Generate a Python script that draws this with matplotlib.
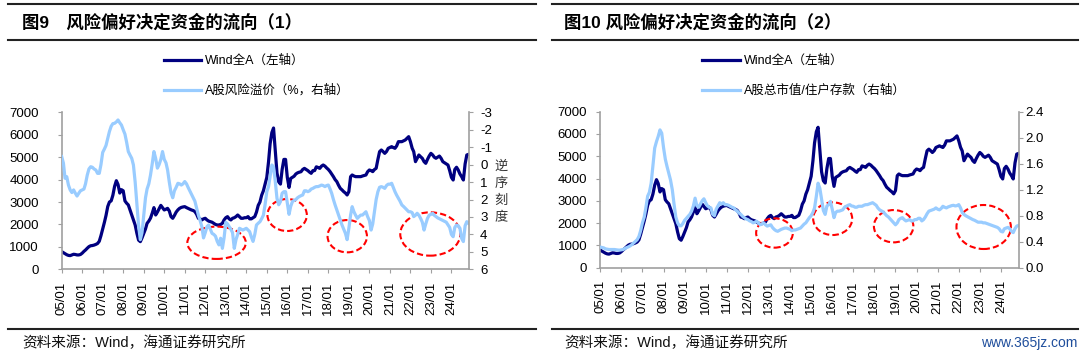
import datetime
import matplotlib
matplotlib.use("Agg")
import matplotlib.pyplot as plt
import matplotlib.dates as mdates
from matplotlib.patches import Ellipse
from matplotlib.lines import Line2D
import pandas as pd

plt.rcParams['font.family'] = ['Liberation Sans', 'Noto Sans CJK SC']
plt.rcParams['axes.unicode_minus'] = False

# monthly data, 2005/01 .. 2024/11
wind_a = [
    788, 740, 700, 650, 620, 610, 640, 670, 660, 640, 640, 660,
    720, 800, 860, 940, 1010, 1050, 1060, 1080, 1110, 1150, 1250, 1500,
    1800, 2100, 2400, 2800, 3000, 3050, 3300, 3700, 3950, 3780, 3400, 3550,
    3500, 3050, 2950, 2870, 2650, 2420, 2200, 1976, 1600, 1300, 1233, 1400,
    1605, 1800, 2050, 2150, 2280, 2500, 2750, 2422, 2550, 2700, 2850, 2750,
    2645, 2680, 2719, 2600, 2350, 2274, 2400, 2550, 2650, 2719, 2760, 2780,
    2794, 2750, 2719, 2680, 2645, 2620, 2571, 2450, 2274, 2250, 2200, 2250,
    2274, 2200, 2150, 2125, 2100, 2050, 2000, 1976, 1976, 2000, 2051, 2200,
    2300, 2348, 2250, 2200, 2274, 2300, 2348, 2422, 2350, 2274, 2274, 2300,
    2300, 2350, 2250, 2250, 2300, 2350, 2550, 2850, 3000, 3300, 3500, 3800,
    4100, 4800, 5600, 6100, 6300, 5300, 4300, 3900, 3800, 4450, 4900, 4900,
    4100, 3650, 4050, 4100, 4150, 4250, 4300, 4330, 4350, 4450, 4500, 4450,
    4400, 4330, 4280, 4400, 4400, 4570, 4540, 4500, 4600, 4650, 4600, 4520,
    4450, 4354, 4250, 4131, 4000, 3908, 3750, 3611, 3540, 3462, 3400, 3314,
    3462, 4131, 4205, 4160, 4131, 4131, 4131, 4131, 4160, 4180, 4205, 4350,
    4428, 4400, 4354, 4450, 4503, 4900, 5245, 5320, 5250, 5170, 5250, 5394,
    5430, 5468, 5430, 5394, 5500, 5691, 5691, 5691, 5730, 5765, 5840, 5914,
    5691, 5400, 5245, 4800, 4950, 5097, 5020, 4948, 4800, 4725, 4900, 5050,
    5170, 5100, 5000, 4950, 5000, 5050, 4950, 4800, 4750, 4700, 4650, 4400,
    4100, 3982, 4450, 4550, 4430, 4250, 4130, 3982, 4700, 5097, 5125,
]

risk_premium = [
    -0.46, -0.08, 0.78, 0.69, 1.17, 1.45, 1.6, 1.45, 1.64, 1.8, 1.64, 1.5,
    1.45, 1.4, 1.1, 0.6, 0.25, 0.12, 0.15, 0.25, 0.31, 0.5, 0.5, 0.0,
    -0.7, -0.9, -1.1, -1.5, -1.9, -2.2, -2.35, -2.37, -2.45, -2.56, -2.4, -2.27,
    -2.0, -1.75, -1.3, -0.75, -0.55, -0.36, 0.02, 1.0, 2.3, 3.5, 4.3, 3.9,
    2.9, 1.9, 1.4, 1.1, 0.6, -0.05, -0.75, -0.36, 0.2, 0.0, -0.3, -0.75,
    -0.3, -0.1, 0.3, 1.0, 1.6, 1.9, 1.5, 1.3, 1.07, 1.1, 1.17, 1.1,
    0.97, 1.1, 1.3, 1.5, 1.7, 1.9, 2.1, 2.5, 2.9, 3.2, 3.55, 4.2,
    3.9, 3.55, 3.46, 3.7, 3.94, 4.0, 4.1, 4.4, 4.6, 4.22, 4.8, 4.2,
    3.3, 3.4, 3.55, 3.7, 3.9, 4.8, 4.3, 4.0, 3.65, 3.7, 3.75, 3.7,
    3.65, 3.75, 3.84, 4.15, 4.4, 4.0, 3.46, 3.36, 3.27, 3.1, 2.9, 2.3,
    1.55, 1.26, 0.69, 0.02, 0.12, 0.97, 1.93, 2.3, 2.12, 1.64, 1.55, 1.55,
    2.2, 2.85, 2.4, 2.12, 2.05, 2.0, 1.9, 1.83, 1.78, 1.74, 1.5, 1.5,
    1.55, 1.5, 1.4, 1.36, 1.3, 1.26, 1.26, 1.22, 1.17, 1.2, 1.26, 1.2,
    1.17, 1.4, 1.64, 2.0, 2.31, 2.6, 2.89, 3.17, 3.46, 3.7, 3.94, 4.3,
    3.65, 2.89, 2.41, 2.7, 2.9, 3.08, 2.98, 2.89, 2.89, 2.8, 2.7, 2.98,
    3.2, 3.75, 3.4, 2.7, 2.0, 1.55, 1.3, 1.26, 1.3, 1.36, 1.2, 1.12,
    1.12, 1.07, 1.3, 1.55, 1.75, 1.93, 2.1, 2.31, 2.4, 2.5, 2.6, 2.7,
    2.7, 2.75, 2.98, 2.9, 2.79, 2.9, 3.08, 3.3, 3.75, 3.4, 3.08, 2.9,
    2.85, 2.79, 2.9, 2.98, 3.05, 3.1, 3.15, 3.2, 3.25, 3.3, 3.45, 3.6,
    4.0, 4.13, 3.6, 3.46, 3.5, 3.65, 4.22, 4.41, 3.5, 3.27, 3.36,
]

cap_to_deposit = [
    0.317, 0.31, 0.305, 0.29, 0.285, 0.28, 0.28, 0.28, 0.28, 0.276, 0.272, 0.27,
    0.275, 0.28, 0.295, 0.31, 0.32, 0.335, 0.355, 0.38, 0.405, 0.43, 0.48, 0.57,
    0.69, 0.78, 0.92, 1.1, 1.16, 1.3, 1.57, 1.84, 1.94, 2.02, 2.12, 2.07,
    1.85, 1.67, 1.56, 1.45, 1.35, 1.2, 0.98, 0.78, 0.69, 0.645, 0.645, 0.68,
    0.73, 0.76, 0.79, 0.82, 0.87, 0.95, 1.07, 0.95, 0.93, 0.98, 1.03, 1.06,
    1.0, 0.95, 0.93, 0.92, 0.82, 0.8, 0.9, 0.95, 1.0, 0.98, 1.0, 0.97,
    0.97, 0.96, 0.945, 0.93, 0.92, 0.89, 0.87, 0.84, 0.82, 0.79, 0.77, 0.75,
    0.74, 0.72, 0.71, 0.69, 0.70, 0.715, 0.69, 0.66, 0.675, 0.69, 0.66, 0.64,
    0.65, 0.66, 0.62, 0.59, 0.57, 0.56, 0.575, 0.59, 0.6, 0.61, 0.61, 0.6,
    0.59, 0.57, 0.58, 0.58, 0.59, 0.6, 0.61, 0.64, 0.67, 0.69, 0.73, 0.77,
    0.8, 0.85, 0.92, 1.1, 1.3, 1.22, 1.05, 0.88, 0.82, 0.95, 0.97, 1.02,
    0.9, 0.77, 0.85, 0.87, 0.87, 0.88, 0.89, 0.93, 0.945, 0.96, 0.97, 0.95,
    0.945, 0.93, 0.93, 0.945, 0.945, 0.945, 0.96, 0.97, 0.97, 0.98, 0.99, 1.0,
    0.98, 0.96, 0.92, 0.89, 0.875, 0.86, 0.83, 0.8, 0.78, 0.75, 0.72, 0.69,
    0.66, 0.69, 0.74, 0.76, 0.77, 0.74, 0.72, 0.73, 0.74, 0.72, 0.72, 0.74,
    0.74, 0.76, 0.76, 0.72, 0.74, 0.78, 0.83, 0.87, 0.88, 0.89, 0.9, 0.92,
    0.9, 0.89, 0.91, 0.945, 0.93, 0.92, 0.935, 0.945, 0.955, 0.96, 0.95, 0.955,
    0.97, 0.92, 0.85, 0.82, 0.8, 0.785, 0.77, 0.755, 0.74, 0.73, 0.715, 0.70,
    0.7, 0.7, 0.69, 0.69, 0.68, 0.67, 0.66, 0.65, 0.64, 0.63, 0.62, 0.6,
    0.56, 0.55, 0.6, 0.61, 0.62, 0.6, 0.56, 0.54, 0.6, 0.64, 0.65,
]

dates = pd.date_range('2005-01-01', periods=len(wind_a), freq='MS')

# dashed circles: (centre year, centre value on left axis, width in years, height)
circles_left = [(2012.55, 1182, 2.85, 1440), (2015.99, 2421, 1.92, 1427),
                (2018.92, 1476, 1.92, 1440), (2022.97, 1574, 2.93, 1932)]
circles_right = [(2013.26, 1557, 1.74, 1316), (2016.02, 2199, 1.85, 1466),
                 (2018.91, 1862, 1.87, 1450), (2023.18, 1826, 2.58, 1974)]

DARK = '#000080'
LIGHT = '#99ccff'
GREY = '#a0a0a0'
W, H = 1080.0, 356.0

base = mdates.date2num(datetime.datetime(2005, 1, 1))


def yr(y):
    return base + (y - 2005) * 365.25


fig = plt.figure(figsize=(10.8, 3.56), dpi=100)


def panel(rect, right_data, right_lim, right_ticks, right_fmt, circles, pad_l, pad_r, labels):
    ax = fig.add_axes(rect)
    l1, = ax.plot(dates, wind_a, color=DARK, lw=2.3, solid_joinstyle='round')
    ax.set_ylim(0, 7000)
    ax.set_yticks(range(0, 7001, 1000))
    ax.set_xlim(yr(2005), yr(2024.87))
    ax.xaxis.set_major_locator(mdates.YearLocator())
    ax.xaxis.set_major_formatter(mdates.DateFormatter('%y/%m'))
    axr = ax.twinx()
    l2, = axr.plot(dates, right_data, color=LIGHT, lw=2.3, solid_joinstyle='round')
    axr.set_ylim(*right_lim)
    axr.set_yticks(right_ticks)
    axr.set_yticklabels([right_fmt(t) for t in right_ticks])
    for c in circles:
        e = Ellipse((yr(c[0]), c[1]), c[2] * 365.25, c[3], transform=ax.transData,
                    fill=False, edgecolor='#ff0000', lw=1.5, linestyle=(0, (3, 1.5)))
        axr.add_patch(e)
    for a in (ax, axr):
        a.spines['top'].set_visible(False)
        for s in a.spines.values():
            s.set_color(GREY)
            s.set_linewidth(1.2)
    ax.spines['right'].set_visible(False)
    axr.spines['left'].set_visible(False)
    axr.spines['bottom'].set_visible(False)
    ax.tick_params(axis='y', length=3, color=GREY, labelsize=9.5, pad=pad_l)
    axr.tick_params(axis='y', length=3, color=GREY, labelsize=9.5, pad=pad_r)
    ax.tick_params(axis='x', length=3, color=GREY, labelsize=9.5, pad=6, labelrotation=90)
    axr.legend([l1, l2], labels, loc='upper left',
               bbox_to_anchor=(rect[0] + 102 / W, 1 - 55 / H), bbox_transform=fig.transFigure,
               frameon=False, fontsize=9, handlelength=3.0, handletextpad=0.3,
               labelspacing=1.4, borderpad=0, borderaxespad=0)
    return ax, axr


panel([61.7 / W, (H - 269.3) / H, 407.6 / W, 157 / H], risk_premium, (6, -3),
      list(range(-3, 7)), lambda t: '%d' % t, circles_left, 13.5, 4.8,
      ['Wind全A（左轴）', 'A股风险溢价（%，右轴）'])
panel([600.3 / W, (H - 267.7) / H, 419 / W, 156 / H], cap_to_deposit, (0, 2.4),
      [0, 0.4, 0.8, 1.2, 1.6, 2.0, 2.4], lambda t: '%.1f' % t, circles_right, 6.5, 1.5,
      ['Wind全A（左轴）', 'A股总市值/住户存款（右轴）'])

fig.text(501 / W, 1 - 192 / H, '逆\n序\n刻\n度', ha='center', va='center',
         fontsize=9.5, linespacing=1.55, color='#333333')

# title bars and footers
for x0, x1, title, tx in [(8, 536, '图9　风险偏好决定资金的流向（1）', 22),
                          (552, 1078, '图10 风险偏好决定资金的流向（2）', 564)]:
    for yy in (4, 40, 329):
        fig.add_artist(Line2D([x0 / W, x1 / W], [1 - yy / H] * 2, transform=fig.transFigure,
                              color='#222222', lw=1.5))
    fig.text(tx / W, 1 - 22 / H, title, fontsize=12.5, fontweight='bold', va='center', ha='left')
    fig.text(tx / W, 1 - 343 / H, '资料来源：Wind，海通证券研究所', fontsize=10.5,
             va='center', ha='left', color='#111111')

fig.text(1077 / W, 1 - 343 / H, 'www.365jz.com', fontsize=10, va='center', ha='right',
         color='#1f4e9c')

fig.savefig('out.png', dpi=100)
